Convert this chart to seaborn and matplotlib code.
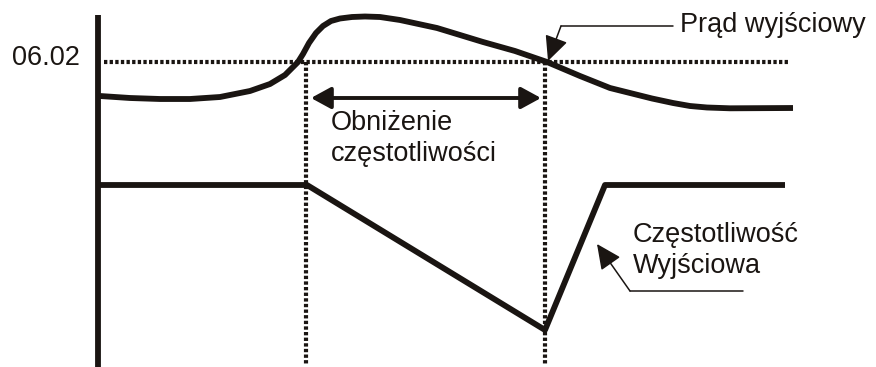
import matplotlib
matplotlib.use("Agg")
import matplotlib.pyplot as plt
import seaborn as sns
import pandas as pd

# ---- data (schematic, in picture units: x to the right, y downward) ----
current_x = [100, 130, 160, 190, 220, 250, 270, 285, 298, 303, 309, 316, 323, 331, 340,
             352, 365, 380, 400, 437, 483, 515, 547, 580, 610, 630, 652, 673, 690,
             707, 730, 793]
current_y = [96, 98, 99, 99, 97, 91, 84, 75, 62, 54, 43, 33, 26, 21, 18.5,
             17, 16.5, 17, 20, 28, 42, 51, 62, 76, 88, 93, 98.5, 103, 106,
             107.5, 108.3, 108]
freq_x = [100, 307, 545, 605, 785]
freq_y = [185, 185, 330, 185, 185]
threshold_y = 62
threshold_label = "06.02"
event_x = [306, 545]
label_current = "Prąd wyjściowy"
label_freq = ["Częstotliwość", "Wyjściowa"]
label_reduction = ["Obniżenie", "częstotliwości"]

sns.set_theme(style="white")
plt.rcParams["font.family"] = ["Liberation Sans", "DejaVu Sans"]

W, H = 876, 367
fig = plt.figure(figsize=(W / 100, H / 100), dpi=100)
ax = fig.add_axes([0, 0, 1, 1])

ink = "#1a1512"
fs = 19.5

# curves
df_c = pd.DataFrame({"x": current_x, "y": current_y})
df_f = pd.DataFrame({"x": freq_x, "y": freq_y})
sns.lineplot(data=df_c, x="x", y="y", ax=ax, sort=False, estimator=None,
             color=ink, lw=4.2)
sns.lineplot(data=df_f, x="x", y="y", ax=ax, sort=False, estimator=None,
             color=ink, lw=4.2)
for ln in ax.lines:
    ln.set_solid_joinstyle("round")
    ln.set_solid_capstyle("butt")
ax.set_xlim(0, W)
ax.set_ylim(H, 0)
ax.axis("off")

# vertical axis
ax.plot([98, 98], [15, 367], color=ink, lw=4.2, solid_capstyle="butt")

# dotted guide lines
dot = (0, (0.8, 0.55))
ax.plot([104, 788], [threshold_y, threshold_y], color=ink, lw=3.0, linestyle=dot,
        dash_capstyle="butt")
for xv in event_x:
    ax.plot([xv, xv], [threshold_y, 365], color=ink, lw=3.0, linestyle=dot,
            dash_capstyle="butt")

# threshold label
ax.text(80, 65, threshold_label, ha="right", va="baseline", fontsize=fs, color=ink)

# double arrow
ax.annotate("", xy=(541, 98), xytext=(311, 98),
            arrowprops=dict(arrowstyle="<|-|>,head_length=0.55,head_width=0.3",
                            lw=2.8, color=ink, mutation_scale=22, shrinkA=0, shrinkB=0))
ax.text(331, 130, label_reduction[0], ha="left", va="baseline", fontsize=fs, color=ink)
ax.text(331, 161, label_reduction[1], ha="left", va="baseline", fontsize=fs, color=ink)

# current label with leader
ax.text(680, 32, label_current, ha="left", va="baseline", fontsize=fs, color=ink)
ax.plot([673, 561], [26, 26], color=ink, lw=1.1)
ax.annotate("", xy=(548, 61), xytext=(561, 26),
            arrowprops=dict(arrowstyle="-|>,head_length=0.7,head_width=0.33",
                            lw=1.1, color=ink, mutation_scale=22, shrinkA=0, shrinkB=0))

# frequency label with leader
ax.text(633, 242, label_freq[0], ha="left", va="baseline", fontsize=fs, color=ink)
ax.text(633, 273, label_freq[1], ha="left", va="baseline", fontsize=fs, color=ink)
ax.plot([743, 630], [291, 291], color=ink, lw=1.1)
ax.annotate("", xy=(597, 244), xytext=(630, 291),
            arrowprops=dict(arrowstyle="-|>,head_length=0.7,head_width=0.33",
                            lw=1.1, color=ink, mutation_scale=22, shrinkA=0, shrinkB=0))

fig.savefig("out.png", dpi=100)
